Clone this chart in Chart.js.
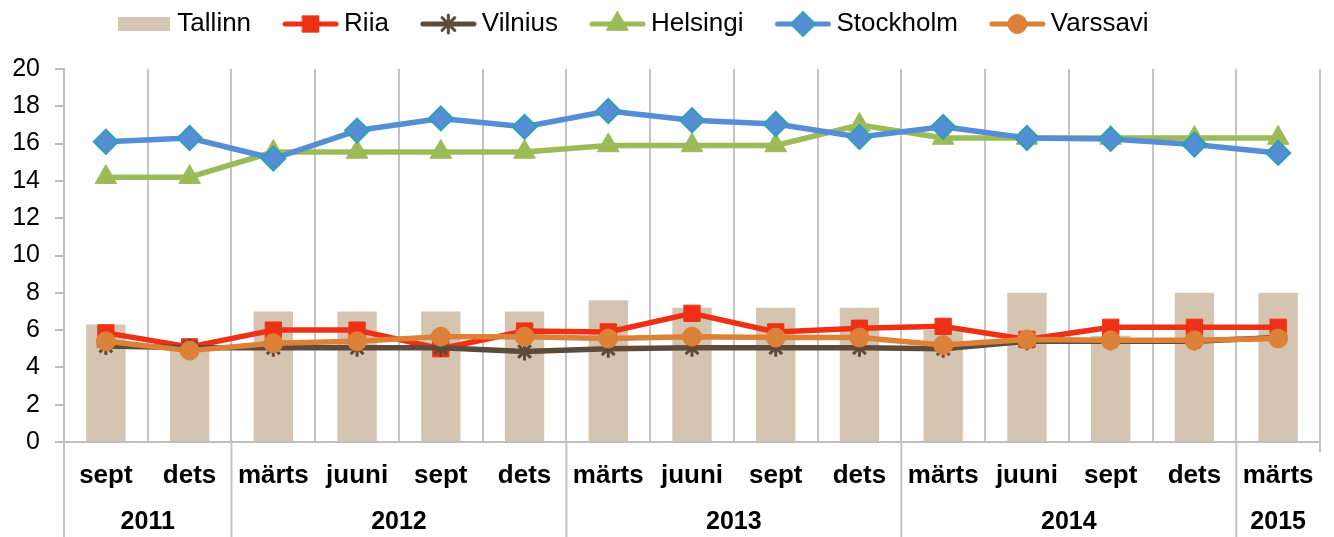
<!DOCTYPE html>
<html>
<head>
<meta charset="utf-8">
<script src="https://cdn.jsdelivr.net/npm/chart.js@4/dist/chart.umd.min.js"></script>
<style>
  html, body { margin: 0; padding: 0; background: #fff; }
  #wrap { width: 1334px; height: 537px; position: relative; }
</style>
</head>
<body>
<div id="wrap"><canvas id="chart"></canvas></div>
<script>
const months = ["sept", "dets", "märts", "juuni", "sept", "dets", "märts", "juuni", "sept", "dets", "märts", "juuni", "sept", "dets", "märts"];
const years = ["2011", "2012", "2013", "2014", "2015"];
const yearSpans = [2, 4, 4, 4, 1];

const tallinn   = [6.3, 5.2, 7.0, 7.0, 7.0, 7.0, 7.6, 7.2, 7.2, 7.2, 6.0, 8.0, 5.7, 8.0, 8.0];
const riia      = [5.85, 5.1, 6.0, 6.0, 5.0, 5.95, 5.9, 6.9, 5.9, 6.1, 6.2, 5.5, 6.15, 6.15, 6.15];
const vilnius   = [5.15, 5.05, 5.05, 5.05, 5.05, 4.85, 5.0, 5.05, 5.05, 5.05, 5.0, 5.4, 5.4, 5.4, 5.6];
const helsingi  = [14.2, 14.2, 15.55, 15.55, 15.55, 15.55, 15.9, 15.9, 15.9, 17.0, 16.3, 16.3, 16.3, 16.3, 16.3];
const stockholm = [16.1, 16.3, 15.2, 16.7, 17.35, 16.9, 17.75, 17.25, 17.05, 16.35, 16.9, 16.3, 16.25, 15.95, 15.5];
const varssavi  = [5.4, 4.9, 5.3, 5.4, 5.65, 5.65, 5.55, 5.65, 5.6, 5.6, 5.2, 5.5, 5.45, 5.45, 5.55];

const FONT = "'Liberation Sans', Arial, sans-serif";

const styles = {
  tallinn:   { color: "#d5c5b0" },
  riia:      { color: "#ee3116", point: "rect",     r: 11.5, bg: "#ee3116", border: "#ee3116", bw: 1 },
  vilnius:   { color: "#5e4a39", point: "star",     r: 9,    bg: "#5e4a39", border: "#5e4a39", bw: 3 },
  helsingi:  { color: "#9bbb59", point: "triangle", r: 12.5, bg: "#9bbb59", border: "#9bbb59", bw: 1 },
  stockholm: { color: "#558ed5", point: "rectRot",  r: 12,   bg: "#558ed5", border: "#2f9fb6", bw: 2 },
  varssavi:  { color: "#dd8038", point: "circle",   r: 9.5,  bg: "#dd8038", border: "#dd8038", bw: 1 },
};

// legend symbols: line segment with the series marker in the middle
function lineSymbol(s) {
  const c = document.createElement("canvas");
  c.width = 57; c.height = 26;
  const ctx = c.getContext("2d");
  ctx.strokeStyle = s.color;
  ctx.lineWidth = 5;
  ctx.lineCap = "round";
  ctx.beginPath(); ctx.moveTo(3, 13); ctx.lineTo(54, 13); ctx.stroke();
  ctx.fillStyle = s.bg;
  ctx.strokeStyle = s.border;
  ctx.lineWidth = s.bw;
  Chart.helpers.drawPoint(ctx, { pointStyle: s.point, radius: s.r, rotation: 0, borderWidth: s.bw }, 28.5, 13);
  return c;
}
function boxSymbol(color) {
  const c = document.createElement("canvas");
  c.width = 52; c.height = 14;
  const ctx = c.getContext("2d");
  ctx.fillStyle = color;
  ctx.fillRect(0, 0, 52, 14);
  return c;
}
const symbols = [
  boxSymbol(styles.tallinn.color),
  lineSymbol(styles.riia),
  lineSymbol(styles.vilnius),
  lineSymbol(styles.helsingi),
  lineSymbol(styles.stockholm),
  lineSymbol(styles.varssavi),
];

function lineSet(label, data, s, order) {
  return {
    type: "line",
    label,
    data,
    order,
    borderColor: s.color,
    backgroundColor: s.bg,
    borderWidth: 5.5,
    borderJoinStyle: "round",
    borderCapStyle: "round",
    tension: 0,
    pointStyle: s.point,
    pointRadius: s.r,
    pointHoverRadius: s.r,
    pointBackgroundColor: s.bg,
    pointBorderColor: s.border,
    pointBorderWidth: s.bw,
  };
}

// fixed legend box height and a shift so the row sits where the original has it
const legendPlace = {
  id: "legendPlace",
  beforeLayout(chart) {
    const lg = chart.legend;
    if (lg && !lg._patched) {
      const fit = lg.fit;
      lg.fit = function () { fit.call(this); this.height = 69; };
      lg._patched = true;
    }
  },
  afterLayout(chart) {
    const lg = chart.legend;
    lg.top = -28;
    lg.left -= 24;
    lg.right -= 24;
  },
};

// year row under the month labels, with group separators
const yearRow = {
  id: "yearRow",
  afterDraw(chart) {
    const { ctx, scales: { x }, chartArea } = chart;
    const half = (x.getPixelForValue(1) - x.getPixelForValue(0)) / 2;
    const edge = i => x.getPixelForValue(i) - half;
    const h = chart.height;
    ctx.save();
    ctx.strokeStyle = "#c4c4c4";
    ctx.lineWidth = 2;
    let start = 0;
    ctx.font = "bold 25px " + FONT;
    ctx.fillStyle = "#000";
    ctx.textAlign = "center";
    ctx.textBaseline = "middle";
    years.forEach((y, k) => {
      const end = start + yearSpans[k];
      const left = edge(start);
      ctx.beginPath(); ctx.moveTo(left, chartArea.bottom); ctx.lineTo(left, h); ctx.stroke();
      ctx.fillText(y, (left + edge(end)) / 2, 522);
      start = end;
    });
    const right = edge(start);
    ctx.beginPath(); ctx.moveTo(right, chartArea.bottom); ctx.lineTo(right, chartArea.bottom + 10); ctx.stroke();
    ctx.restore();
  },
};

new Chart(document.getElementById("chart"), {
  data: {
    labels: months,
    datasets: [
      {
        type: "bar",
        label: "Tallinn",
        data: tallinn,
        order: 10,
        backgroundColor: styles.tallinn.color,
        categoryPercentage: 1,
        barPercentage: 0.47,
      },
      lineSet("Riia", riia, styles.riia, 6),
      lineSet("Vilnius", vilnius, styles.vilnius, 5),
      lineSet("Helsingi", helsingi, styles.helsingi, 4),
      lineSet("Stockholm", stockholm, styles.stockholm, 3),
      lineSet("Varssavi", varssavi, styles.varssavi, 2),
    ],
  },
  options: {
    responsive: true,
    maintainAspectRatio: false,
    animation: false,
    layout: { padding: { left: 0, right: 14, top: 0, bottom: 0 } },
    scales: {
      x: {
        type: "category",
        offset: true,
        grid: { color: "#c4c4c4", lineWidth: 2, drawTicks: false, offset: true },
        border: { color: "#bfbfbf", width: 2 },
        ticks: { color: "#000", font: { family: FONT, size: 26, weight: "bold" }, padding: 18, maxRotation: 0, autoSkip: false },
        afterFit(scale) { scale.height = 95; },
      },
      y: {
        min: 0,
        max: 20,
        ticks: { stepSize: 2, color: "#000", font: { family: FONT, size: 25 }, padding: 15 },
        grid: { drawOnChartArea: false, color: "#bfbfbf", lineWidth: 2, tickLength: 9 },
        border: { color: "#bfbfbf", width: 2 },
        afterFit(scale) { scale.width = 64; },
      },
    },
    plugins: {
      tooltip: { enabled: false },
      legend: {
        position: "top",
        labels: {
          usePointStyle: true,
          pointStyleWidth: 41,
          padding: 39,
          color: "#000",
          font: { family: FONT, size: 26 },
          sort: (a, b) => a.datasetIndex - b.datasetIndex,
          generateLabels(chart) {
            const items = Chart.defaults.plugins.legend.labels.generateLabels(chart);
            items.forEach(it => { it.pointStyle = symbols[it.datasetIndex]; });
            return items;
          },
        },
      },
    },
  },
  plugins: [legendPlace, yearRow],
});
</script>
</body>
</html>
